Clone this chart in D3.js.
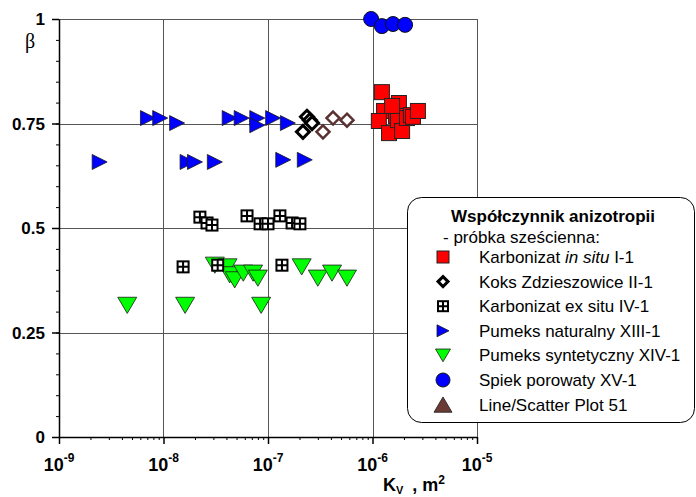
<!doctype html>
<html lang="pl">
<head>
  <meta charset="utf-8">
  <title>Współczynnik anizotropii</title>
  <script src="https://d3js.org/d3.v7.min.js"></script>
  <style>
    body { margin: 0; background: #fff; }
    svg text { font-family: Arial, 'Liberation Sans', sans-serif; }
  </style>
</head>
<body>
<div id="chart"></div>
<script>
  // data: [K_V (m^2), beta]
  var karbonizatInSitu = [
    [1.23e-6, 0.825], [1.79e-6, 0.799], [1.29e-6, 0.780], [1.15e-6, 0.756],
    [1.44e-6, 0.727], [1.68e-6, 0.768], [1.75e-6, 0.758], [1.92e-6, 0.732],
    [2.14e-6, 0.763], [2.33e-6, 0.770], [2.44e-6, 0.766], [2.72e-6, 0.780],
    [1.54e-6, 0.792]
  ];
  var koks = [[2.16e-7, 0.730], [2.36e-7, 0.766], [2.52e-7, 0.758], [2.64e-7, 0.751]];
  var koksBrown = [[3.36e-7, 0.730], [4.19e-7, 0.763], [5.7e-7, 0.758]];
  var karbonizatExSitu = [
    [2.23e-8, 0.526], [2.61e-8, 0.512], [2.91e-8, 0.507], [6.3e-8, 0.529],
    [8.4e-8, 0.510], [1.0e-7, 0.510], [1.30e-7, 0.529], [1.70e-7, 0.512],
    [2.02e-7, 0.510], [1.54e-8, 0.407], [3.3e-8, 0.411], [1.36e-7, 0.411]
  ];
  var pumeksNaturalny = [
    [2.45e-9, 0.658], [7.1e-9, 0.763], [9.3e-9, 0.763], [1.35e-8, 0.751],
    [1.7e-8, 0.658], [2.0e-8, 0.658], [3.1e-8, 0.658], [4.3e-8, 0.763],
    [5.6e-8, 0.763], [7.9e-8, 0.763], [7.9e-8, 0.746], [1.12e-7, 0.763],
    [1.55e-7, 0.751], [1.4e-7, 0.663], [2.25e-7, 0.663]
  ];
  var pumeksSyntetyczny = [
    [4.5e-9, 0.315], [1.61e-8, 0.315], [8.6e-8, 0.315],
    [3.1e-8, 0.411], [4.1e-8, 0.407], [4.3e-8, 0.388], [4.8e-8, 0.376],
    [5.8e-8, 0.392], [7.2e-8, 0.392], [8.0e-8, 0.380],
    [2.1e-7, 0.407], [3.0e-7, 0.380], [4.1e-7, 0.392], [5.7e-7, 0.380]
  ];
  var spiekPorowaty = [[9.7e-7, 1.0], [1.23e-6, 0.983], [1.57e-6, 0.988], [2.05e-6, 0.986]];

  var xTickExponents = [-9, -8, -7, -6, -5];
  var yTicks = [0, 0.25, 0.5, 0.75, 1];
  var yTickLabels = ['0', '0.25', '0.5', '0.75', '1'];
  var legendLabels = ['Karbonizat in situ I-1', 'Koks Zdzieszowice II-1', 'Karbonizat ex situ IV-1',
                      'Pumeks naturalny XIII-1', 'Pumeks syntetyczny XIV-1', 'Spiek porowaty XV-1',
                      'Line/Scatter Plot 51'];

  var width = 696, height = 497;
  var svg = d3.select('#chart').append('svg')
      .attr('width', width).attr('height', height);

  var x = d3.scaleLog().domain([1e-9, 1e-5]).range([59, 477]);
  var y = d3.scaleLinear().domain([0, 1]).range([437, 19]);

  var decades = xTickExponents.map(function(e) { return Math.pow(10, e); });

  // grid
  var grid = svg.append('g').attr('stroke', '#555').attr('stroke-width', 1);
  grid.selectAll('.vg').data(decades.slice(1)).enter().append('line')
      .attr('x1', function(d) { return Math.round(x(d)) + 0.5; })
      .attr('x2', function(d) { return Math.round(x(d)) + 0.5; })
      .attr('y1', y(0)).attr('y2', y(1));
  grid.selectAll('.hg').data(yTicks.slice(1)).enter().append('line')
      .attr('x1', x(1e-9)).attr('x2', x(1e-5))
      .attr('y1', function(d) { return Math.round(y(d)) + 0.5; })
      .attr('y2', function(d) { return Math.round(y(d)) + 0.5; });

  // minor ticks
  var minorX = [];
  decades.slice(0, -1).forEach(function(d) {
    for (var k = 2; k < 10; k++) minorX.push(d * k);
  });
  var minorY = d3.range(0, 1.0001, 0.05);

  svg.append('g')
      .attr('transform', 'translate(0,' + y(0) + ')')
      .call(d3.axisBottom(x).tickValues(minorX).tickSize(3).tickFormat(''))
      .call(function(g) { g.select('.domain').remove(); });
  svg.append('g')
      .attr('transform', 'translate(' + x(1e-9) + ',0)')
      .call(d3.axisLeft(y).tickValues(minorY).tickSize(3).tickFormat(''))
      .call(function(g) { g.select('.domain').remove(); });

  // main axes
  var xAxis = svg.append('g')
      .attr('transform', 'translate(0,' + y(0) + ')')
      .call(d3.axisBottom(x).tickValues(decades).tickSize(7).tickSizeOuter(0).tickFormat(''));
  xAxis.select('.domain').attr('stroke-width', 1.5);
  xAxis.selectAll('.tick line').attr('stroke-width', 1.5);

  var yAxis = svg.append('g')
      .attr('transform', 'translate(' + x(1e-9) + ',0)')
      .call(d3.axisLeft(y).tickValues(yTicks).tickSize(7).tickSizeOuter(0).tickFormat(''));
  yAxis.select('.domain').attr('stroke-width', 1.5);
  yAxis.selectAll('.tick line').attr('stroke-width', 1.5);

  // tick labels
  xTickExponents.forEach(function(e, i) {
    var t = svg.append('text')
        .attr('x', x(decades[i])).attr('y', 471)
        .attr('text-anchor', 'middle')
        .style('font-size', '18px').style('font-weight', 'bold');
    t.append('tspan').text('10');
    t.append('tspan').attr('dy', -9).style('font-size', '12px').text(String(e));
  });
  yTicks.forEach(function(v, i) {
    svg.append('text')
        .attr('x', 45).attr('y', y(v) + 6)
        .attr('text-anchor', 'end')
        .style('font-size', '17px').style('font-weight', 'bold')
        .text(yTickLabels[i]);
  });

  // axis titles
  svg.append('text').attr('x', 25).attr('y', 48)
      .style('font-family', "'Liberation Serif', 'DejaVu Serif', serif")
      .style('font-size', '20px').text('β');
  var xt = svg.append('text').attr('x', 383).attr('y', 491)
      .style('font-size', '18px').style('font-weight', 'bold');
  xt.append('tspan').text('K');
  xt.append('tspan').attr('dy', 3).style('font-size', '11px').text('V');
  xt.append('tspan').attr('dy', -3).attr('dx', 9).text(', m');
  xt.append('tspan').attr('dy', -7).style('font-size', '12px').text('2');

  // marker helpers
  function tri(s, dir) {
    var h = s / 2;
    if (dir === 'right') return 'M' + (-h) + ',' + (-h) + 'L' + h + ',0L' + (-h) + ',' + h + 'Z';
    if (dir === 'down') return 'M' + (-h) + ',' + (-h * 0.85) + 'L' + h + ',' + (-h * 0.85) + 'L0,' + (h * 0.85) + 'Z';
    return 'M' + (-h) + ',' + (h * 0.85) + 'L' + h + ',' + (h * 0.85) + 'L0,' + (-h * 0.85) + 'Z';
  }
  function diamond(s) {
    var h = s / 2;
    return 'M0,' + (-h) + 'L' + h + ',0L0,' + h + 'L' + (-h) + ',0Z';
  }
  function gridSquare(g, s) {
    var h = s / 2;
    g.append('rect').attr('x', -h).attr('y', -h).attr('width', s).attr('height', s)
        .attr('fill', '#fff').attr('stroke', '#000').attr('stroke-width', 2);
    g.append('path').attr('d', 'M0,' + (-h) + 'V' + h + 'M' + (-h) + ',0H' + h)
        .attr('stroke', '#000').attr('stroke-width', 2);
  }
  function place(sel) {
    return sel.attr('transform', function(d) {
      return 'translate(' + x(d[0]) + ',' + y(d[1]) + ')';
    });
  }

  var plot = svg.append('g');

  place(plot.selectAll('.syn').data(pumeksSyntetyczny).enter().append('path'))
      .attr('d', tri(19, 'down')).attr('fill', '#00ff00').attr('stroke', '#1a1a1a').attr('stroke-width', 0.8);

  place(plot.selectAll('.exs').data(karbonizatExSitu).enter().append('g'))
      .each(function() { gridSquare(d3.select(this), 11); });

  place(plot.selectAll('.nat').data(pumeksNaturalny).enter().append('path'))
      .attr('d', tri(15, 'right')).attr('fill', '#0000ff').attr('stroke', '#1a1a1a').attr('stroke-width', 0.8);

  place(plot.selectAll('.kok').data(koks).enter().append('path'))
      .attr('d', diamond(13)).attr('fill', '#fff').attr('stroke', '#000').attr('stroke-width', 3);

  place(plot.selectAll('.kob').data(koksBrown).enter().append('path'))
      .attr('d', diamond(13)).attr('fill', '#fff').attr('stroke', '#5a3232').attr('stroke-width', 2.5);

  place(plot.selectAll('.ins').data(karbonizatInSitu).enter().append('rect'))
      .attr('x', -7.5).attr('y', -7.5).attr('width', 15).attr('height', 15)
      .attr('fill', '#ff0000').attr('stroke', '#222').attr('stroke-width', 1);

  place(plot.selectAll('.spk').data(spiekPorowaty).enter().append('circle'))
      .attr('r', 7.5).attr('fill', '#0000ff').attr('stroke', '#111').attr('stroke-width', 1);

  // legend
  var lg = svg.append('g');
  lg.append('rect').attr('x', 407.5).attr('y', 197.5).attr('width', 287).attr('height', 225)
      .attr('rx', 14).attr('fill', '#fff').attr('stroke', '#000').attr('stroke-width', 1);
  lg.append('text').attr('x', 451).attr('y', 222)
      .style('font-size', '17px').style('font-weight', 'bold').text('Współczynnik anizotropii');
  lg.append('text').attr('x', 443).attr('y', 243)
      .style('font-size', '17px').text('- próbka sześcienna:');

  var mx = 443;
  legendLabels.forEach(function(label, i) {
    var cy = 257 + i * 24.6;
    var g = lg.append('g').attr('transform', 'translate(' + mx + ',' + cy + ')');
    if (i === 0) g.append('rect').attr('x', -6).attr('y', -6).attr('width', 12).attr('height', 12)
        .attr('fill', '#ff0000').attr('stroke', '#222');
    if (i === 1) g.append('path').attr('d', diamond(10)).attr('fill', '#fff').attr('stroke', '#000').attr('stroke-width', 3);
    if (i === 2) gridSquare(g, 10);
    if (i === 3) g.append('path').attr('d', tri(12, 'right')).attr('fill', '#0000ff').attr('stroke', '#1a1a1a').attr('stroke-width', 0.8);
    if (i === 4) g.append('path').attr('d', tri(15, 'down')).attr('fill', '#00ff00').attr('stroke', '#1a1a1a').attr('stroke-width', 0.8);
    if (i === 5) g.append('circle').attr('r', 7).attr('fill', '#0000ff').attr('stroke', '#111');
    if (i === 6) g.append('path').attr('d', tri(18, 'up')).attr('fill', '#6b3a35').attr('stroke', '#1a1a1a').attr('stroke-width', 0.8);

    var t = lg.append('text').attr('x', 479).attr('y', cy + 6).style('font-size', '17px');
    if (i === 0) {
      t.append('tspan').text('Karbonizat ');
      t.append('tspan').style('font-style', 'italic').text('in situ');
      t.append('tspan').text(' I-1');
    } else {
      t.text(label);
    }
  });
</script>
</body>
</html>
